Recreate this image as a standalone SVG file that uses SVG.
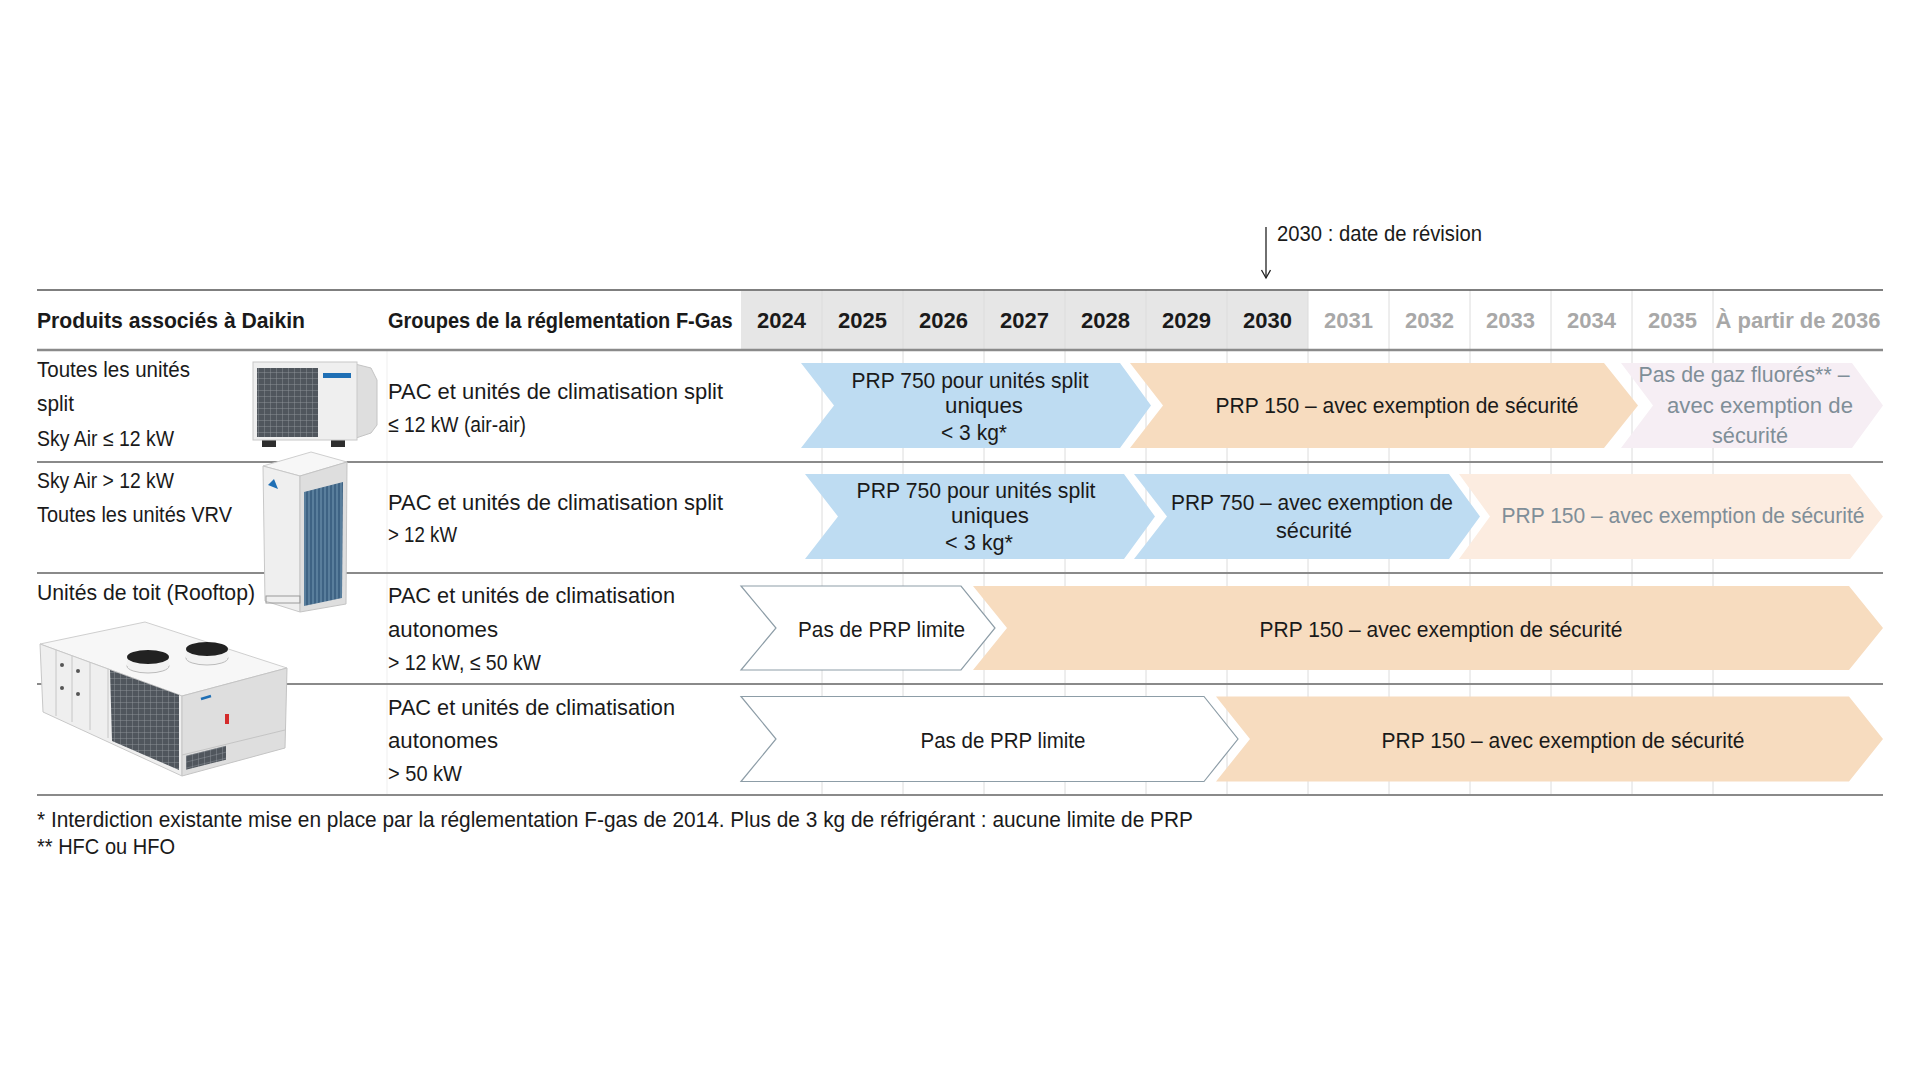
<svg xmlns="http://www.w3.org/2000/svg" width="1920" height="1080" viewBox="0 0 1920 1080">
<defs>
<style>
.t{font-family:"Liberation Sans",Arial,sans-serif;font-size:22px;fill:#1a1a1a}
.b{font-weight:bold}
.m{text-anchor:middle}
.gy{fill:#a8a8a8}
.sl{fill:#7f8e98}
.rule{stroke:#8a8a8a;stroke-width:2;fill:none}
.grid{stroke:#dcdcdc;stroke-width:1;fill:none}
.blue{fill:#bedcf2}
.orange{fill:#f7dcbf}
.peach{fill:#fcece0}
.pink{fill:#f6eef4}
.white{fill:#ffffff;stroke:#8d9da7;stroke-width:1.2}
.body{fill:#efefef;stroke:#c8c8c8;stroke-width:1}
.side{fill:#dedede;stroke:#c4c4c4;stroke-width:1}
.top{fill:#f7f7f7;stroke:#cfcfcf;stroke-width:1}
</style>
<marker id="ah" markerUnits="userSpaceOnUse" markerWidth="12" markerHeight="12" refX="9" refY="5" orient="auto">
<path d="M1,0.5 L9,5 L1,9.5" fill="none" stroke="#222" stroke-width="1.3"/>
</marker>
<pattern id="grille" width="6" height="6" patternUnits="userSpaceOnUse">
<rect width="6" height="6" fill="#50565d"/>
<path d="M0,0H6M0,0V6" stroke="#959ba1" stroke-width="0.8"/>
</pattern>
<pattern id="coil" width="4" height="12" patternUnits="userSpaceOnUse">
<rect width="4" height="12" fill="#3e6384"/>
<path d="M1,0V12" stroke="#8db0c9" stroke-width="0.7"/>
</pattern>
</defs>

<rect width="1920" height="1080" fill="#ffffff"/>

<!-- table frame -->
<g id="table-frame">
<rect x="741" y="291" width="567" height="59" fill="#e6e6e6"/>
<path d="M387,350V795" stroke="#efefef" stroke-width="1" fill="none"/>
<path class="grid" d="M822,290V795M903,290V795M984,290V795M1065,290V795M1146,290V795M1227,290V795M1308,290V795M1389,290V795M1470,290V795M1551,290V795M1632,290V795M1713,290V795"/>
<path d="M37,290H1883" stroke="#555" stroke-width="1.6" fill="none"/>
<path d="M37,350H1883" stroke="#8a8a8a" stroke-width="2.6" fill="none"/>
<path class="rule" d="M37,462H1883M37,573H1883M37,684H1883M37,795H1883"/>
</g>

<!-- header -->
<g id="header">
<text class="t b" x="37" y="328" textLength="268" lengthAdjust="spacingAndGlyphs">Produits associés à Daikin</text>
<text class="t b" transform="translate(388 328) scale(0.91 1)" x="0" y="0">Groupes de la réglementation F-Gas</text>
<text class="t b m" x="781.5" y="328">2024</text>
<text class="t b m" x="862.5" y="328">2025</text>
<text class="t b m" x="943.5" y="328">2026</text>
<text class="t b m" x="1024.5" y="328">2027</text>
<text class="t b m" x="1105.5" y="328">2028</text>
<text class="t b m" x="1186.5" y="328">2029</text>
<text class="t b m" x="1267.5" y="328">2030</text>
<text class="t b m gy" x="1348.5" y="328">2031</text>
<text class="t b m gy" x="1429.5" y="328">2032</text>
<text class="t b m gy" x="1510.5" y="328">2033</text>
<text class="t b m gy" x="1591.5" y="328">2034</text>
<text class="t b m gy" x="1672.5" y="328">2035</text>
<text class="t b m gy" x="1798" y="328" textLength="165" lengthAdjust="spacingAndGlyphs">À partir de 2036</text>
</g>

<!-- revision annotation -->
<g id="revision-note">
<text class="t" x="1277" y="241" textLength="205" lengthAdjust="spacingAndGlyphs">2030 : date de révision</text>
</g>

<!-- connectors -->
<g id="connectors">
<path d="M1266,227V278" fill="none" stroke="#222" stroke-width="1.3" marker-end="url(#ah)"/>
</g>

<!-- Row 1 -->
<g id="row-1">
<g id="product-split-small">
<text class="t" x="37" y="377" textLength="153" lengthAdjust="spacingAndGlyphs">Toutes les unités</text>
<text class="t" x="37" y="411" textLength="37" lengthAdjust="spacingAndGlyphs">split</text>
<text class="t" x="37" y="446" textLength="137" lengthAdjust="spacingAndGlyphs">Sky Air ≤ 12 kW</text>
<g id="img-outdoor-unit">
<rect x="262" y="438" width="14" height="9" fill="#2e2e2e"/>
<rect x="331" y="438" width="14" height="9" fill="#2e2e2e"/>
<path class="side" d="M355,364 L371,368 L377,380 L377,425 L371,433 L356,438 Z"/>
<rect class="body" x="253" y="362" width="104" height="78"/>
<rect x="257" y="368" width="61" height="69" fill="url(#grille)"/>
<rect x="323" y="373" width="28" height="5" fill="#1f6fb5"/>
</g>
</g>
<g id="group-1">
<text class="t" x="388" y="399" textLength="335" lengthAdjust="spacingAndGlyphs">PAC et unités de climatisation split</text>
<text class="t" x="388" y="432" textLength="138" lengthAdjust="spacingAndGlyphs">≤ 12 kW (air-air)</text>
</g>
<g id="r1-prp750">
<polygon class="blue" points="801,363 1120,363 1151,405.5 1120,448 801,448 834,405.5"/>
<text class="t m" x="970" y="388" textLength="237" lengthAdjust="spacingAndGlyphs">PRP 750 pour unités split</text>
<text class="t m" x="984" y="413" textLength="78" lengthAdjust="spacingAndGlyphs">uniques</text>
<text class="t m" x="974" y="440" textLength="66" lengthAdjust="spacingAndGlyphs">&lt; 3 kg*</text>
</g>
<g id="r1-prp150">
<polygon class="orange" points="1130,363 1604,363 1638,405.5 1604,448 1130,448 1163,405.5"/>
<text class="t m" x="1397" y="413" textLength="363" lengthAdjust="spacingAndGlyphs">PRP 150 – avec exemption de sécurité</text>
</g>
<g id="r1-nofgas">
<polygon class="pink" points="1621,363 1852,363 1883,405.5 1852,448 1621,448 1653,405.5"/>
<text class="t m sl" x="1744" y="382" textLength="211" lengthAdjust="spacingAndGlyphs">Pas de gaz fluorés** –</text>
<text class="t m sl" x="1760" y="413" textLength="186" lengthAdjust="spacingAndGlyphs">avec exemption de</text>
<text class="t m sl" x="1750" y="443" textLength="76" lengthAdjust="spacingAndGlyphs">sécurité</text>
</g>
</g>

<!-- Row 2 -->
<g id="row-2">
<g id="product-split-large">
<text class="t" x="37" y="488" textLength="137" lengthAdjust="spacingAndGlyphs">Sky Air &gt; 12 kW</text>
<text class="t" x="37" y="522" textLength="195" lengthAdjust="spacingAndGlyphs">Toutes les unités VRV</text>
<g id="img-vrv-unit">
<polygon class="top" points="263,466 311,452 347,462 300,476"/>
<polygon class="body" points="263,466 300,476 300,612 265,601"/>
<polygon class="side" points="300,476 347,462 346,604 300,612"/>
<polygon points="304,492 343,482 342,598 304,606" fill="url(#coil)"/>
<path d="M268,485 l6,-6 l4,10 z" fill="#1f6fb5"/>
<rect x="266" y="596" width="34" height="7" fill="none" stroke="#9a9a9a" stroke-width="1"/>
</g>
</g>
<g id="group-2">
<text class="t" x="388" y="510" textLength="335" lengthAdjust="spacingAndGlyphs">PAC et unités de climatisation split</text>
<text class="t" x="388" y="542" textLength="69" lengthAdjust="spacingAndGlyphs">&gt; 12 kW</text>
</g>
<g id="r2-prp750-single">
<polygon class="blue" points="805,474 1124,474 1155,516.5 1124,559 805,559 838,516.5"/>
<text class="t m" x="976" y="498" textLength="239" lengthAdjust="spacingAndGlyphs">PRP 750 pour unités split</text>
<text class="t m" x="990" y="523" textLength="78" lengthAdjust="spacingAndGlyphs">uniques</text>
<text class="t m" x="979" y="550" textLength="68" lengthAdjust="spacingAndGlyphs">&lt; 3 kg*</text>
</g>
<g id="r2-prp750">
<polygon class="blue" points="1134,474 1449,474 1480,516.5 1449,559 1134,559 1167,516.5"/>
<text class="t m" x="1312" y="510" textLength="282" lengthAdjust="spacingAndGlyphs">PRP 750 – avec exemption de</text>
<text class="t m" x="1314" y="538" textLength="76" lengthAdjust="spacingAndGlyphs">sécurité</text>
</g>
<g id="r2-prp150">
<polygon class="peach" points="1459,474 1850,474 1883,516.5 1850,559 1459,559 1490,516.5"/>
<text class="t m sl" x="1683" y="523" textLength="363" lengthAdjust="spacingAndGlyphs">PRP 150 – avec exemption de sécurité</text>
</g>
</g>

<!-- Row 3 -->
<g id="row-3">
<g id="product-rooftop">
<text class="t" x="37" y="600" textLength="218" lengthAdjust="spacingAndGlyphs">Unités de toit (Rooftop)</text>
<g id="img-rooftop-unit">
<polygon class="top" points="40,644 145,622 287,668 182,696"/>
<polygon class="body" points="40,644 182,696 182,776 43,712"/>
<polygon class="side" points="182,696 287,668 285,748 182,776"/>
<polygon points="110,670 179,695 179,770 112,741" fill="url(#grille)"/>
<path d="M56,650V716M72,656V722M90,662V730M108,669V738" stroke="#c6c6c6" stroke-width="1" fill="none"/>
<circle cx="62" cy="665" r="2" fill="#555"/><circle cx="62" cy="688" r="2" fill="#555"/>
<circle cx="78" cy="671" r="2" fill="#555"/><circle cx="78" cy="694" r="2" fill="#555"/>
<path d="M182,755 L285,730" stroke="#c4c4c4" stroke-width="1" fill="none"/>
<rect x="186" y="756" width="40" height="14" fill="url(#grille)" transform="skewY(-14) translate(0,46)"/>
<ellipse cx="148" cy="666" rx="21" ry="7" fill="#f2f2f2" stroke="#bbb"/>
<rect x="127" y="657" width="42" height="9" fill="#f2f2f2"/>
<ellipse cx="148" cy="657" rx="21" ry="7" fill="#222"/>
<ellipse cx="207" cy="658" rx="21" ry="7" fill="#f2f2f2" stroke="#bbb"/>
<rect x="186" y="649" width="42" height="9" fill="#f2f2f2"/>
<ellipse cx="207" cy="649" rx="21" ry="7" fill="#222"/>
<path d="M201,699 l10,-3" stroke="#1f6fb5" stroke-width="2.5" fill="none"/>
<rect x="225" y="714" width="4" height="10" fill="#d42b2b"/>
</g>
</g>
<g id="group-3">
<text class="t" x="388" y="603" textLength="287" lengthAdjust="spacingAndGlyphs">PAC et unités de climatisation</text>
<text class="t" x="388" y="637" textLength="110" lengthAdjust="spacingAndGlyphs">autonomes</text>
<text class="t" x="388" y="670" textLength="153" lengthAdjust="spacingAndGlyphs">&gt; 12 kW, ≤ 50 kW</text>
</g>
<g id="r3-nolimit">
<polygon class="white" points="741,586 961,586 995,628 961,670 741,670 776,628"/>
<text class="t m" x="881.5" y="637" textLength="167" lengthAdjust="spacingAndGlyphs">Pas de PRP limite</text>
</g>
<g id="r3-prp150">
<polygon class="orange" points="973,586 1849,586 1883,628 1849,670 973,670 1007,628"/>
<text class="t m" x="1441" y="637" textLength="363" lengthAdjust="spacingAndGlyphs">PRP 150 – avec exemption de sécurité</text>
</g>
</g>

<!-- Row 4 -->
<g id="row-4">
<g id="group-4">
<text class="t" x="388" y="715" textLength="287" lengthAdjust="spacingAndGlyphs">PAC et unités de climatisation</text>
<text class="t" x="388" y="748" textLength="110" lengthAdjust="spacingAndGlyphs">autonomes</text>
<text class="t" x="388" y="781" textLength="74" lengthAdjust="spacingAndGlyphs">&gt; 50 kW</text>
</g>
<g id="r4-nolimit">
<polygon class="white" points="741,696.5 1204,696.5 1238,739 1204,781.5 741,781.5 776,739"/>
<text class="t m" x="1003" y="748" textLength="165" lengthAdjust="spacingAndGlyphs">Pas de PRP limite</text>
</g>
<g id="r4-prp150">
<polygon class="orange" points="1216,696.5 1849,696.5 1883,739 1849,781.5 1216,781.5 1250,739"/>
<text class="t m" x="1563" y="748" textLength="363" lengthAdjust="spacingAndGlyphs">PRP 150 – avec exemption de sécurité</text>
</g>
</g>

<!-- footnotes -->
<g id="footnotes">
<text class="t" x="37" y="827" textLength="1156" lengthAdjust="spacingAndGlyphs">* Interdiction existante mise en place par la réglementation F-gas de 2014. Plus de 3 kg de réfrigérant : aucune limite de PRP</text>
<text class="t" x="37" y="854" textLength="138" lengthAdjust="spacingAndGlyphs">** HFC ou HFO</text>
</g>
</svg>
